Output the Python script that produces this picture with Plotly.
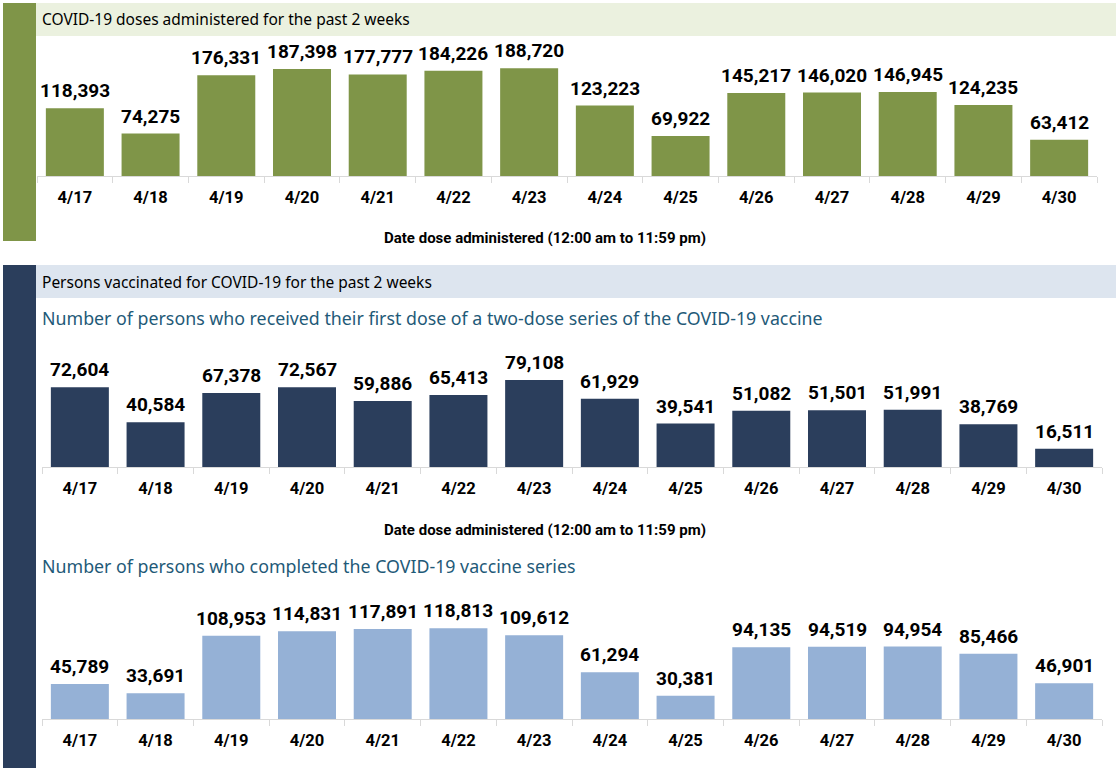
import plotly.graph_objects as go

dates = ["4/17", "4/18", "4/19", "4/20", "4/21", "4/22", "4/23", "4/24", "4/25", "4/26", "4/27", "4/28", "4/29", "4/30"]
doses = [118393, 74275, 176331, 187398, 177777, 184226, 188720, 123223, 69922, 145217, 146020, 146945, 124235, 63412]
first_dose = [72604, 40584, 67378, 72567, 59886, 65413, 79108, 61929, 39541, 51082, 51501, 51991, 38769, 16511]
completed = [45789, 33691, 108953, 114831, 117891, 118813, 109612, 61294, 30381, 94135, 94519, 94954, 85466, 46901]

title_top = "COVID-19 doses administered for the past 2 weeks"
title_mid = "Persons vaccinated for COVID-19 for the past 2 weeks"
sub1 = "Number of persons who received their first dose of a two-dose series of the COVID-19 vaccine"
sub2 = "Number of persons who completed the COVID-19 vaccine series"
axis_title = "Date dose administered (12:00 am to 11:59 pm)"

GREEN = "#7F9548"
NAVY = "#2B3E5C"
LIGHT = "#95B1D6"
TEAL = "#1F5A78"

W, H = 1116, 768

def py(px):
    return 1 - px / H

def px_x(px):
    return px / W

fig = go.Figure()
series = [(doses, GREEN, "x", "y"), (first_dose, NAVY, "x2", "y2"), (completed, LIGHT, "x3", "y3")]
for vals, col, xa, ya in series:
    fig.add_trace(go.Bar(x=dates, y=vals, marker=dict(color=col, line=dict(width=0)),
                         xaxis=xa, yaxis=ya, hoverinfo="x+y", showlegend=False))

annotations = []
for vals, col, xa, ya in series:
    for d, v in zip(dates, vals):
        annotations.append(dict(x=d, y=v, xref=xa, yref=ya, text=f"{v:,}", showarrow=False,
                                yanchor="bottom", yshift=4,
                                font=dict(family="Roboto", size=19, color="#000000", weight="bold")))

# layout of the three panels: (baseline px, px per unit, y max, x left px, x right px)
panels = [
    (176, 1750, 200000, 37, 1097),
    (467, 909, 85000, 42, 1102),
    (719, 1310, 130000, 42, 1102),
]
axis_common = dict(
    showline=True, linecolor="#D9D9D9", linewidth=1,
    ticks="outside", tickson="boundaries", ticklen=6, tickcolor="#D9D9D9",
    tickfont=dict(family="Roboto", size=16.5, color="#000000", weight="bold"),
    ticklabelstandoff=6, showgrid=False, zeroline=False, fixedrange=True,
)
for i, (base, scale, ymax, xl, xr) in enumerate(panels):
    sfx = "" if i == 0 else str(i + 1)
    top = base - ymax / scale
    fig.layout["xaxis" + sfx] = dict(domain=[px_x(xl), px_x(xr)], anchor="y" + sfx, **axis_common)
    fig.layout["yaxis" + sfx] = dict(domain=[py(base), py(top)], anchor="x" + sfx, range=[0, ymax],
                                     visible=False, fixedrange=True)

shapes = [
    dict(type="rect", xref="paper", yref="paper", x0=px_x(3), x1=px_x(36), y0=py(241), y1=py(3),
         fillcolor=GREEN, line=dict(width=0), layer="below"),
    dict(type="rect", xref="paper", yref="paper", x0=px_x(36), x1=1, y0=py(36), y1=py(3),
         fillcolor="#EBF1DF", line=dict(width=0), layer="below"),
    dict(type="rect", xref="paper", yref="paper", x0=px_x(3), x1=px_x(36), y0=0, y1=py(265),
         fillcolor=NAVY, line=dict(width=0), layer="below"),
    dict(type="rect", xref="paper", yref="paper", x0=px_x(36), x1=1, y0=py(298), y1=py(265),
         fillcolor="#DDE5EF", line=dict(width=0), layer="below"),
]

hdr_font = dict(family="Noto Sans", size=15.5, color="#000000")
sub_font = dict(family="Noto Sans", size=17.8, color=TEAL)
ax_font = dict(family="Roboto", size=15, color="#000000", weight="bold")
annotations += [
    dict(x=px_x(40), y=py(19), xref="paper", yref="paper", text=title_top, showarrow=False,
         xanchor="left", yanchor="middle", font=hdr_font),
    dict(x=px_x(40), y=py(282), xref="paper", yref="paper", text=title_mid, showarrow=False,
         xanchor="left", yanchor="middle", font=hdr_font),
    dict(x=px_x(40), y=py(318), xref="paper", yref="paper", text=sub1, showarrow=False,
         xanchor="left", yanchor="middle", font=sub_font),
    dict(x=px_x(40), y=py(566), xref="paper", yref="paper", text=sub2, showarrow=False,
         xanchor="left", yanchor="middle", font=sub_font),
    dict(x=px_x(545), y=py(238), xref="paper", yref="paper", text=axis_title, showarrow=False,
         xanchor="center", yanchor="middle", font=ax_font),
    dict(x=px_x(545), y=py(530), xref="paper", yref="paper", text=axis_title, showarrow=False,
         xanchor="center", yanchor="middle", font=ax_font),
]

fig.update_layout(
    width=W, height=H, margin=dict(l=0, r=0, t=0, b=0),
    paper_bgcolor="#FFFFFF", plot_bgcolor="rgba(0,0,0,0)",
    bargap=0.234, shapes=shapes, annotations=annotations, showlegend=False,
)

fig.write_html("out.html", config={"displayModeBar": False},
               post_script="document.body.style.margin='0';document.body.style.overflow='hidden';")
